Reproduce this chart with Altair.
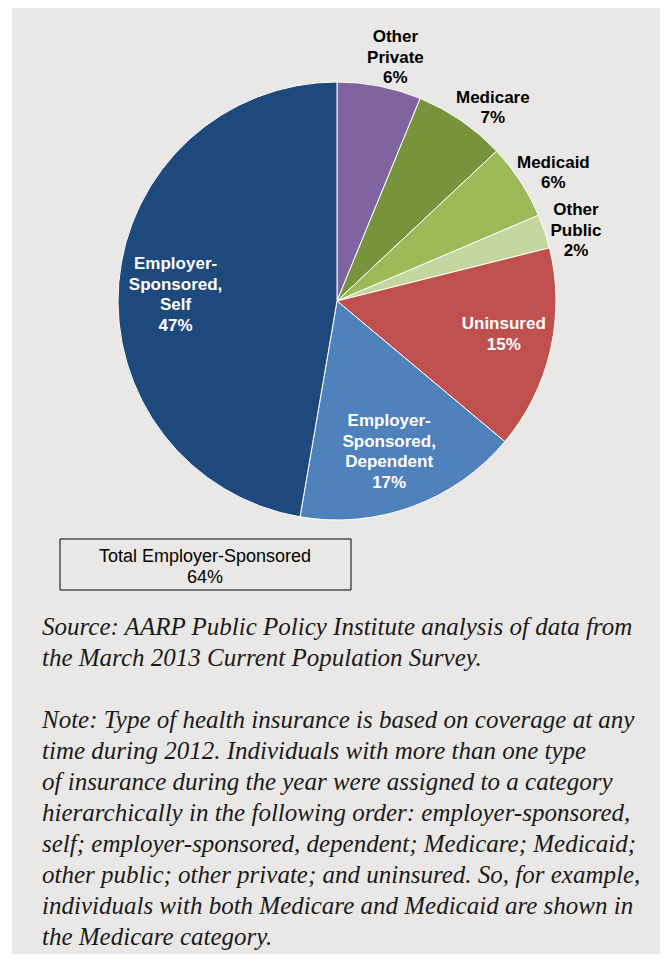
import altair as alt
import pandas as pd

# ---- data ----
categories = ["Other Private", "Medicare", "Medicaid", "Other Public",
              "Uninsured", "Employer-Sponsored, Dependent", "Employer-Sponsored, Self"]
shares = [6.2, 6.8, 5.6, 2.5, 15.0, 16.6, 47.3]
label_lines = ["Other\nPrivate\n6%", "Medicare\n7%", "Medicaid\n6%", "Other\nPublic\n2%",
               "Uninsured\n15%", "Employer-\nSponsored,\nDependent\n17%",
               "Employer-\nSponsored,\nSelf\n47%"]
placement = ["out", "out", "out", "out", "in", "in", "in"]
colors = ["#8064A2", "#77933C", "#9BBB59", "#C3D69B", "#C0504D", "#4F81BD", "#1D497C"]

total_label = ["Total Employer-Sponsored", "64%"]
source_lines = [
    "Source: AARP Public Policy Institute analysis of data from",
    "the March 2013 Current Population Survey.",
]
note_lines = [
    "Note: Type of health insurance is based on coverage at any",
    "time during 2012. Individuals with more than one type",
    "of insurance during the year were assigned to a category",
    "hierarchically in the following order: employer-sponsored,",
    "self; employer-sponsored, dependent; Medicare; Medicaid;",
    "other public; other private; and uninsured. So, for example,",
    "individuals with both Medicare and Medicaid are shown in",
    "the Medicare category.",
]

df = pd.DataFrame({
    "category": categories,
    "share": shares,
    "label": label_lines,
    "placement": placement,
    "order": list(range(len(categories))),
})

W, H = 652, 946
CX, CY, R = 329, 293, 219
LH = 20.5
SANS = "Liberation Sans, Arial, Helvetica, sans-serif"
SERIF = "Liberation Serif, Times New Roman, serif"
BG = "#EAE8E6"

# label placement tweaks (radius, dx, dy) per slice, as in the reference layout
label_style = {
    "Other Private": (250, 10, 2),
    "Medicare": (250, 14, 13),
    "Medicaid": (250, 7, 8.5),
    "Other Public": (250, 2, 9),
    "Uninsured": (166, 5, -3.5),
    "Employer-Sponsored, Dependent": (163, -4, -2),
    "Employer-Sponsored, Self": (163, 1, 8),
}

bg = alt.Chart(pd.DataFrame({"a": [0]})).mark_rect(color=BG).encode(
    x=alt.value(4), x2=alt.value(W), y=alt.value(-3), y2=alt.value(H)
)

base = alt.Chart(df).encode(
    theta=alt.Theta("share:Q", stack=True),
    order=alt.Order("order:Q"),
)

pie = base.mark_arc(radius=R, stroke="white", strokeWidth=1).encode(
    color=alt.Color("category:N", scale=alt.Scale(domain=categories, range=colors), legend=None),
    x=alt.value(CX), y=alt.value(CY),
)


def label_layer(cat, label, place):
    radius, dx, dy = label_style[cat]
    n = label.count("\n") + 1
    color = "black" if place == "out" else "white"
    return base.transform_calculate(
        t=f"datum.category == '{cat}' ? datum.label : ''"
    ).mark_text(
        radius=radius, dx=dx, dy=dy - (n - 1) * LH / 2, font=SANS, fontSize=17,
        fontWeight="bold", color=color, lineBreak="\n", lineHeight=LH,
        baseline="middle", align="center",
    ).encode(text="t:N", x=alt.value(CX), y=alt.value(CY))


labels = [label_layer(c, l, p) for c, l, p in zip(categories, label_lines, placement)]

box = alt.Chart(pd.DataFrame({"a": [0]})).mark_rect(
    fill=BG, stroke="black", strokeWidth=1
).encode(x=alt.value(52), x2=alt.value(343), y=alt.value(531), y2=alt.value(582))

box_text = alt.Chart(pd.DataFrame({"t": [total_label]})).mark_text(
    font=SANS, fontSize=18, color="black", lineHeight=21, baseline="middle", align="center"
).encode(text="t", x=alt.value(197), y=alt.value(549))

source_text = alt.Chart(pd.DataFrame({"t": [source_lines]})).mark_text(
    font=SERIF, fontSize=25, fontStyle="italic", color="#1a1a1a", lineHeight=31,
    baseline="alphabetic", align="left"
).encode(text="t", x=alt.value(34), y=alt.value(627))

note_text = alt.Chart(pd.DataFrame({"t": [note_lines]})).mark_text(
    font=SERIF, fontSize=25, fontStyle="italic", color="#1a1a1a", lineHeight=31,
    baseline="alphabetic", align="left"
).encode(text="t", x=alt.value(34), y=alt.value(720))

chart = alt.layer(bg, pie, *labels, box, box_text, source_text, note_text).properties(
    width=W, height=H, padding=0, autosize="none", background="white"
).configure_view(stroke=None)

chart.save("out.html", embed_options={"renderer": "svg", "actions": False})
